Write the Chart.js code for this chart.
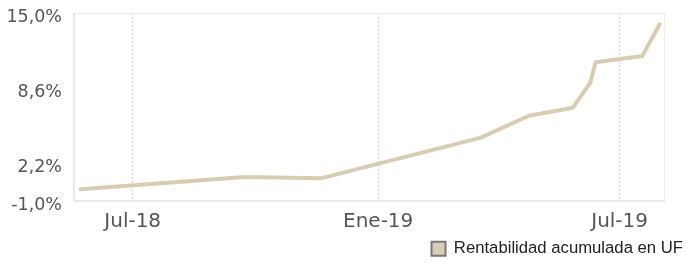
<!DOCTYPE html>
<html>
<head>
<meta charset="utf-8">
<script src="https://cdn.jsdelivr.net/npm/chart.js@4/dist/chart.umd.min.js"></script>
<style>
html,body{margin:0;padding:0;background:#fff;}
#wrap{width:686px;height:263px;position:relative;}
</style>
</head>
<body>
<div id="wrap"><canvas id="c" width="686" height="263"></canvas></div>
<script>
// ---- data ----
const seriesName = 'Rentabilidad acumulada en UF';
const dates = ['2018-05-23','2018-09-23','2018-11-19','2019-03-19','2019-04-24','2019-05-27','2019-06-09','2019-06-13','2019-07-18','2019-07-31'];
const values = [0.0, 1.04, 0.93, 4.39, 6.26, 6.94, 9.07, 10.8, 11.34, 14.04];
const xTickDates = ['2018-07-01','2019-01-01','2019-07-01'];
const xTickLabels = ['Jul-18','Ene-19','Jul-19'];
const yTicks = [-1.0, 2.2, 8.6, 15.0];
const xRange = ['2018-05-18','2019-08-04'];

const origin = Date.UTC(2018,6,1);
function dayNum(s){const p=s.split('-').map(Number);return (Date.UTC(p[0],p[1]-1,p[2])-origin)/86400000;}

const pts = dates.map((d,i)=>({x:dayNum(d),y:values[i]}));
const tickPos = xTickDates.map(dayNum);

const frame = {
  id:'frame',
  beforeDatasetsDraw(chart){
    const a=chart.chartArea, ctx=chart.ctx;
    ctx.save();
    ctx.strokeStyle='#ececec'; ctx.lineWidth=1;
    ctx.beginPath();
    ctx.moveTo(a.left,a.top+0.5); ctx.lineTo(a.right-0.5,a.top+0.5); ctx.lineTo(a.right-0.5,a.bottom);
    ctx.stroke();
    ctx.strokeStyle='#e8e8e8'; ctx.lineWidth=2;
    ctx.beginPath();
    ctx.moveTo(a.left,a.top); ctx.lineTo(a.left,a.bottom); ctx.lineTo(a.right,a.bottom);
    ctx.stroke();
    ctx.restore();
  }
};

function shiftLabels(s, dy){
  if (s._shifted) return;
  s._shifted = true;
  const orig = s.drawLabels.bind(s);
  s.drawLabels = function(area){
    const ctx = s.ctx; ctx.save(); ctx.translate(0, dy); orig(area); ctx.restore();
  };
}

const yFont = {family:'"DejaVu Sans", Verdana, sans-serif', size:17.5};
const xFont = {family:'"DejaVu Sans", Verdana, sans-serif', size:20};

new Chart(document.getElementById('c'),{
  type:'line',
  data:{datasets:[{
    label:seriesName,
    data:pts,
    borderColor:'#d6cdb3',
    backgroundColor:'#d6cdb3',
    borderWidth:4,
    pointRadius:0,
    tension:0,
    fill:false,
    borderCapStyle:'round',
    borderJoinStyle:'round'
  }]},
  plugins:[frame],
  options:{
    responsive:false,
    animation:false,
    layout:{padding:{left:0,right:0,top:13,bottom:-4}},
    plugins:{
      tooltip:{enabled:false},
      legend:{
        position:'bottom',
        align:'end',
        labels:{
          font:{family:'"Liberation Sans", Arial, sans-serif', size:16.7},
          color:'#222',
          boxWidth:14,
          boxHeight:14,
          padding:3,
          generateLabels(chart){
            return chart.data.datasets.map((ds,i)=>({
              text:ds.label, fillStyle:ds.borderColor, strokeStyle:'#777', lineWidth:2,
              hidden:false, datasetIndex:i, fontColor:'#222'
            }));
          }
        }
      }
    },
    scales:{
      x:{
        type:'linear',
        min:dayNum(xRange[0]),
        max:dayNum(xRange[1]),
        afterBuildTicks(s){ s.ticks = tickPos.map(v=>({value:v})); },
        afterFit(s){ s.height = 36.3; s.paddingLeft = 0; s.paddingRight = 0; },
        ticks:{
          font:xFont, color:'#555', padding:9, maxRotation:0, autoSkip:false,
          callback(v){ const i=tickPos.indexOf(v); return i>=0?xTickLabels[i]:''; }
        },
        grid:{color:'#d3d3d3', lineWidth:1, drawTicks:false},
        border:{display:false, dash:[2,2]}
      },
      y:{
        min:yTicks[0], max:yTicks[yTicks.length-1],
        afterBuildTicks(s){ s.ticks = yTicks.map(v=>({value:v})); },
        afterFit(s){ s.width = 74; s.paddingTop = 0; s.paddingBottom = 0; shiftLabels(s, 4); },
        ticks:{
          font:yFont, color:'#555', padding:4,
          callback(v){ return v.toFixed(1).replace('.',',')+'%'; }
        },
        grid:{display:false},
        border:{display:false}
      },
      yr:{
        position:'right',
        display:true,
        afterFit(s){ s.width = 21; s.paddingTop = 0; s.paddingBottom = 0; },
        ticks:{display:false},
        grid:{display:false},
        border:{display:false}
      }
    }
  }
});
</script>
</body>
</html>
